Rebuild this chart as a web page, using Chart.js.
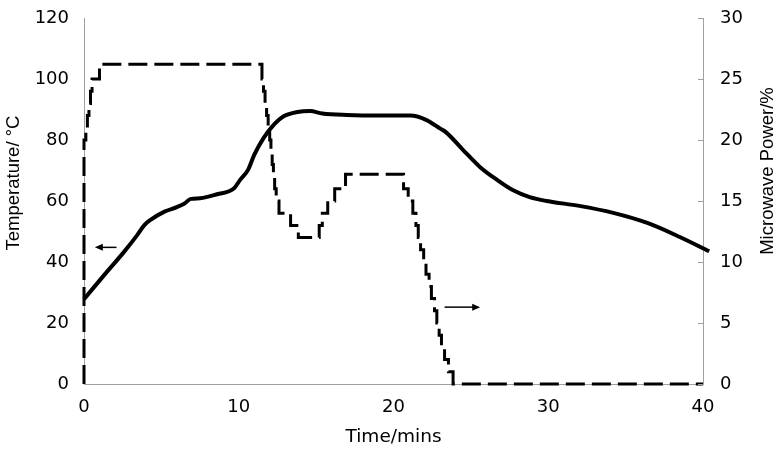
<!DOCTYPE html>
<html>
<head>
<meta charset="utf-8">
<title>Temperature and microwave power</title>
<script src="https://cdn.jsdelivr.net/npm/chart.js@4.4.1/dist/chart.umd.min.js"></script>
<style>
  html, body { margin: 0; padding: 0; background: #fff; }
  #wrap { width: 780px; height: 449px; }
</style>
</head>
<body>
<div id="wrap"><canvas id="chart" width="780" height="449"></canvas></div>
<script>
// temperature trace (left axis), minutes / degrees C
const tempTime  = [0, 1.3, 2.6, 3.45, 3.9, 4.3, 5.2, 6.0, 6.5, 6.9, 7.5, 8.6, 9.7, 10.1, 10.6, 11.0, 11.6, 12.3, 12.9, 13.8, 14.6, 15.4, 17.0, 19.0, 21.1, 22.1, 23.0, 23.4, 24.5, 25.6, 26.7, 27.7, 28.8, 29.9, 32.0, 34.2, 36.4, 38.5, 40.4];
const tempValue = [27.8, 35.7, 43.4, 48.9, 52.1, 53.8, 56.5, 58.0, 59.2, 60.7, 60.9, 62.2, 64.2, 67.0, 70.2, 75.1, 80.6, 85.2, 87.8, 89.2, 89.5, 88.7, 88.2, 88.0, 88.0, 86.6, 83.8, 82.5, 76.7, 71.1, 66.9, 63.6, 61.3, 60.0, 58.4, 56.1, 52.8, 48.2, 43.5];

// microwave power (right axis), stepped, minutes / %
const powerTime  = [0, 0, 0.12, 0.22, 0.32, 0.42, 0.52, 1.0, 11.5, 11.6, 11.7, 11.8, 11.9, 12.0, 12.08, 12.16, 12.24, 12.32, 12.42, 12.6, 13.35, 13.85, 15.2, 15.4, 15.75, 16.2, 16.9, 20.65, 20.95, 21.25, 21.45, 21.6, 21.75, 21.95, 22.1, 22.3, 22.45, 22.65, 22.8, 22.95, 23.1, 23.3, 23.55, 23.85, 40];
const powerValue = [0, 20, 21, 22, 23, 24, 25, 26.2, 25, 24, 23, 22, 21, 20, 19, 18, 17, 16, 15, 14, 13, 12, 13, 14, 15, 16, 17.2, 16, 15, 14, 13, 12, 11, 10, 9, 8, 7, 6, 5, 4, 3, 2, 1, 0, 0];

// axis ranges and tick steps
const timeRange = [0, 40, 10];
const tempRange = [0, 120, 20];
const powerRange = [0, 30, 5];

// small arrows pointing to each curve's axis: [from time, to time, value]
const tempArrow = [2.1, 0.7, 44.8];
const powerArrow = [23.3, 25.6, 6.3];

const xTitle = 'Time/mins';
const leftTitle = 'Temperature/ \u00B0C';
const rightTitle = 'Microwave Power/%';

const axisColor = '#a0a0a0';
const textColor = '#000';
const tickFamily = '"DejaVu Sans", Arial, sans-serif';
const titleFamily = '"Liberation Sans", Arial, Helvetica, sans-serif';

function toPoints(xs, ys) {
    return xs.map((x, i) => ({ x: x, y: ys[i] }));
}

function drawArrow(ctx, x0, y, x1) {
    const dir = x1 > x0 ? 1 : -1;
    ctx.beginPath();
    ctx.moveTo(x0, y);
    ctx.lineTo(x1 - dir * 6, y);
    ctx.stroke();
    ctx.beginPath();
    ctx.moveTo(x1, y);
    ctx.lineTo(x1 - dir * 8, y - 3.5);
    ctx.lineTo(x1 - dir * 8, y + 3.5);
    ctx.closePath();
    ctx.fill();
}

// y scales: fixed width, and no extra room above/below for the end labels
function fixWidth(w) {
    return function (scale) {
        scale.width = w;
        scale.paddingTop = 0;
        scale.paddingBottom = 0;
    };
}

// inner ticks on the right axis, arrows and the two rotated axis titles
const extras = {
    id: 'extras',
    afterDraw(chart) {
        const { ctx, chartArea, scales } = chart;
        ctx.save();

        ctx.strokeStyle = axisColor;
        ctx.lineWidth = 1;
        scales.y1.ticks.forEach(t => {
            const py = Math.round(scales.y1.getPixelForValue(t.value)) + 0.5;
            ctx.beginPath();
            ctx.moveTo(chartArea.right - 5, py);
            ctx.lineTo(chartArea.right, py);
            ctx.stroke();
        });

        ctx.strokeStyle = '#000';
        ctx.fillStyle = '#000';
        ctx.lineWidth = 1.5;
        drawArrow(ctx, scales.x.getPixelForValue(tempArrow[0]), scales.y.getPixelForValue(tempArrow[2]), scales.x.getPixelForValue(tempArrow[1]));
        drawArrow(ctx, scales.x.getPixelForValue(powerArrow[0]), scales.y1.getPixelForValue(powerArrow[2]), scales.x.getPixelForValue(powerArrow[1]));

        const mid = (chartArea.top + chartArea.bottom) / 2;
        ctx.fillStyle = textColor;
        ctx.font = '18.5px ' + titleFamily;
        ctx.textAlign = 'center';
        ctx.textBaseline = 'middle';

        ctx.save();
        ctx.translate(chartArea.left - 70, mid - 18);
        ctx.rotate(-Math.PI / 2);
        ctx.fillText(leftTitle, 0, 0);
        ctx.restore();

        ctx.save();
        ctx.translate(chartArea.right + 65, mid - 30);
        ctx.rotate(-Math.PI / 2);
        ctx.fillText(rightTitle, 0, 0);
        ctx.restore();

        ctx.restore();
    }
};

const tickFont = { family: tickFamily, size: 18 };

new Chart(document.getElementById('chart').getContext('2d'), {
    type: 'line',
    data: {
        datasets: [
            {
                label: 'Temperature',
                data: toPoints(tempTime, tempValue),
                yAxisID: 'y',
                borderColor: '#000',
                borderWidth: 4,
                pointRadius: 0,
                cubicInterpolationMode: 'monotone',
                clip: false
            },
            {
                label: 'Microwave Power',
                data: toPoints(powerTime, powerValue),
                yAxisID: 'y1',
                borderColor: '#000',
                borderWidth: 3,
                borderDash: [19, 7],
                stepped: 'before',
                pointRadius: 0,
                clip: false
            }
        ]
    },
    options: {
        responsive: false,
        animation: false,
        layout: { padding: { top: 18, left: 0, right: 0, bottom: 0 } },
        plugins: {
            legend: { display: false },
            tooltip: { enabled: false }
        },
        scales: {
            x: {
                type: 'linear',
                min: timeRange[0],
                max: timeRange[1],
                grid: { display: false, drawTicks: false },
                border: { color: axisColor, width: 1 },
                ticks: { stepSize: timeRange[2], font: tickFont, color: textColor, padding: 13, maxRotation: 0 },
                title: { display: true, text: xTitle, font: { family: tickFamily, size: 18.5 }, color: textColor, padding: { top: 0, bottom: 1 } },
                afterFit(scale) { scale.height = 65; }
            },
            y: {
                position: 'left',
                min: tempRange[0],
                max: tempRange[1],
                grid: { display: false, drawTicks: false },
                border: { color: axisColor, width: 1 },
                ticks: { stepSize: tempRange[2], font: tickFont, color: textColor, padding: 15 },
                afterFit: fixWidth(84)
            },
            y1: {
                position: 'right',
                min: powerRange[0],
                max: powerRange[1],
                grid: { display: false, drawTicks: false },
                border: { color: axisColor, width: 1 },
                ticks: { stepSize: powerRange[2], font: tickFont, color: textColor, padding: 17 },
                afterFit: fixWidth(77)
            }
        }
    },
    plugins: [extras]
});
</script>
</body>
</html>
